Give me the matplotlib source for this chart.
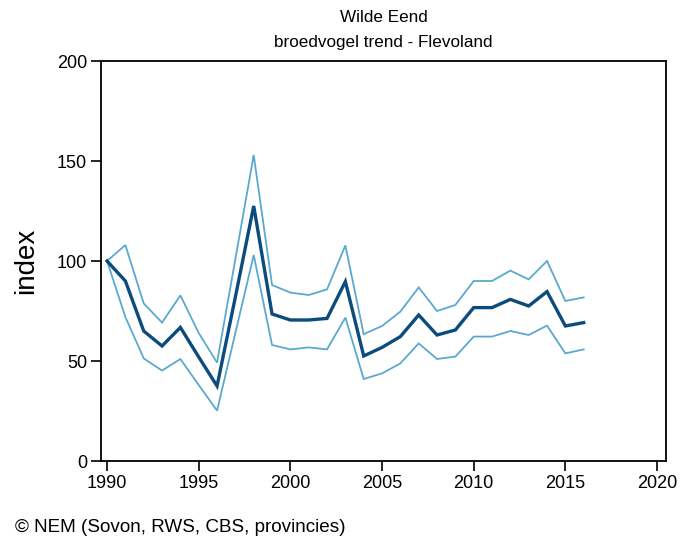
import matplotlib
matplotlib.use("Agg")
import matplotlib.pyplot as plt

plt.rcParams['font.family'] = ['Liberation Sans', 'DejaVu Sans']

years = list(range(1990, 2017))
index_mean = [100, 90, 65, 57.5, 66.8, 52, 37.5, 82, 127.5, 73.5, 70.5, 70.5, 71.3, 89.7,
              52.5, 56.8, 62.2, 73, 63, 65.5, 76.7, 76.7, 80.8, 77.5, 84.7, 67.5, 69.2]
index_upper = [100, 108, 78.8, 69.2, 82.8, 64, 49.2, 101, 153, 88, 84.2, 83, 85.8, 107.8,
               63.4, 67.5, 74.7, 86.8, 75, 78, 90, 90, 95.2, 90.8, 100, 80, 81.8]
index_lower = [100, 72, 51.3, 45.2, 51, 38, 25.2, 64, 103, 58, 55.8, 56.8, 55.8, 71.7,
               41, 43.8, 48.8, 58.8, 51, 52.2, 62.2, 62.2, 65, 63, 67.7, 53.8, 55.8]
x_ticks = [1990, 1995, 2000, 2005, 2010, 2015, 2020]
y_ticks = [0, 50, 100, 150, 200]

dark = '#0b4c7c'
light = '#5aa9cf'

fig = plt.figure(figsize=(6.81, 5.40), dpi=100)
ax = fig.add_axes([101 / 681, 79 / 540, 565 / 681, 400 / 540])

ax.plot(years, index_upper, color=light, lw=1.3, solid_joinstyle='miter')
ax.plot(years, index_lower, color=light, lw=1.3, solid_joinstyle='miter')
ax.plot(years, index_mean, color=dark, lw=2.4, solid_joinstyle='miter')

ax.set_xlim(1989.67, 2020.49)
ax.set_ylim(0, 200)
ax.set_xticks(x_ticks)
ax.set_yticks(y_ticks)
ax.tick_params(direction='out', length=7, width=1.2, labelsize=13, pad=3, colors='black')
for s in ax.spines.values():
    s.set_linewidth(1.3)

ax.set_ylabel('index', fontsize=20, labelpad=13)

fig.text(383.5 / 681, 1 - 18 / 540, 'Wilde Eend', ha='center', va='center', fontsize=12.3)
fig.text(383.5 / 681, 1 - 43 / 540, 'broedvogel trend - Flevoland', ha='center', va='center', fontsize=12.3)
fig.text(15 / 681, 1 - 527 / 540, '\u00a9 NEM (Sovon, RWS, CBS, provincies)', ha='left', va='center', fontsize=13.6)

fig.savefig('out.png', dpi=100)
